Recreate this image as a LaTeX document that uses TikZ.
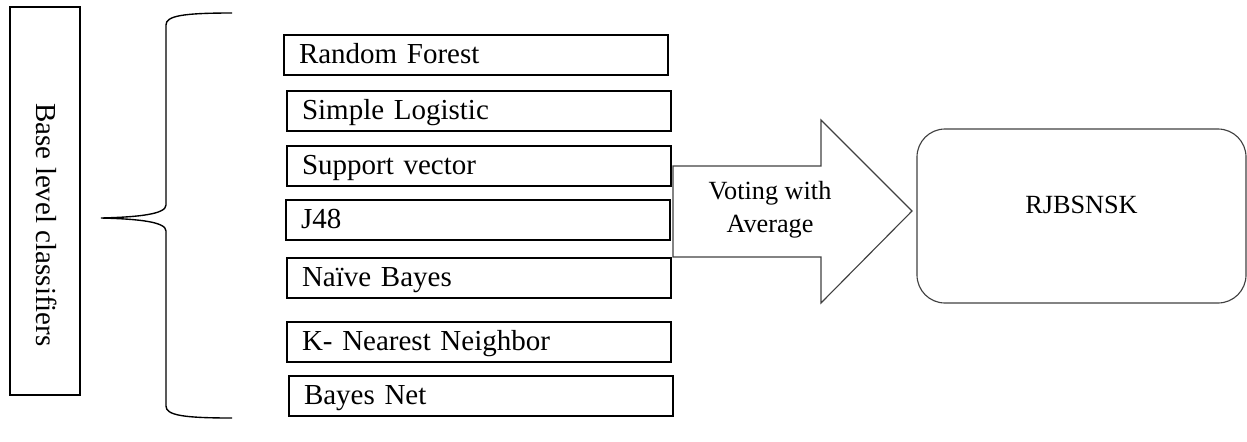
\documentclass[tikz,border=0pt]{standalone}
\usepackage{fontspec}
\setmainfont{Liberation Serif}
\usepackage{tikz}
\tikzset{
        every node/.style={font=\fontsize{11.6}{13}\selectfont},
        clfbox/.style={draw, line width=0.8pt, anchor=north west, minimum width=153.6pt,
                text width=141.6pt, inner xsep=6pt, inner ysep=0pt,
                text height=11.4pt, text depth=4.6pt, align=left},
        thinline/.style={draw=black!75, line width=0.45pt},
        smalltext/.style={font=\fontsize{10.5}{13.1}\selectfont}
}

\begin{document}
\begin{tikzpicture}[x=0.4pt, y=-0.4pt]
        \useasboundingbox (0,0) rectangle (1247,441);
        \node[draw, line width=0.8pt, minimum width=28pt, minimum height=155.2pt] (base) at (45,201) {};
        \node[rotate=-90] (basetxt) at (47,225) {Base level classifiers};

        \draw[line width=0.55pt] (232,13) .. controls (182,13) and (166,16) .. (166,25) to (166,205)
        .. controls (166,214) and (140,217) .. (101,218)
        .. controls (140,219) and (166,222) .. (166,231) to (166,406)
        .. controls (166,415) and (182,418) .. (232,418);

        \node[clfbox] (rf) at (283,34) {Random Forest};
        \node[clfbox] (sl) at (286,90) {Simple Logistic};
        \node[clfbox] (sv) at (286,145) {Support vector};
        \node[clfbox] (jf) at (285,199) {J48};
        \node[clfbox] (nb) at (286,257) {Naïve Bayes};
        \node[clfbox] (knn) at (286,321) {K- Nearest Neighbor};
        \node[clfbox] (bn) at (288,375) {Bayes Net};

        \draw[thinline] (673,166) to (821,166) to (821,120) to (912,211) to (821,303) to (821,257) to (673,257) -- cycle;
        \node[smalltext, align=center] (vote) at (770,210) {Voting with\\Average};

        \node[thinline, rounded corners=11.2pt, minimum width=131.6pt, minimum height=69.6pt] (res) at (1081.5,216) {};
        \node[smalltext] (restxt) at (1081.5,205) {RJBSNSK};
\end{tikzpicture}
\end{document}
